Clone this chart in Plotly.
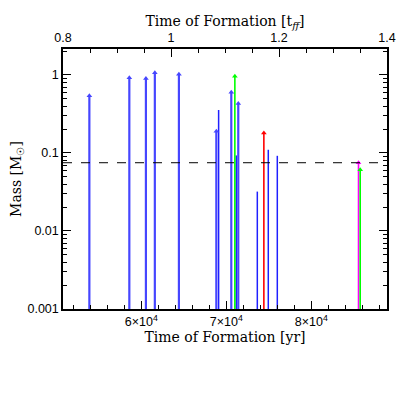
import plotly.graph_objects as go

# formation times [yr] and masses [Msun]
blue_arrow_t = [53900, 58600, 60550, 61600, 64430, 68830, 70590, 71410]
blue_arrow_m = [0.54, 0.92, 0.90, 1.07, 1.02, 0.19, 0.60, 0.43]

blue_line_t = [69100, 71180, 73650, 74940, 76000]
blue_line_m = [0.356, 0.093, 0.032, 0.11, 0.092]

green_t = [71010, 85750]
green_m = [0.96, 0.061]

red_t = [74420]
red_m = [0.18]

magenta_t = [85550]
magenta_m = [0.075]

t_ff = 63500.0
m_floor = 0.001
m_hburn = 0.075

x_ticks = [60000, 70000, 80000]
x_ticktext = ["6×10<sup>4</sup>", "7×10<sup>4</sup>", "8×10<sup>4</sup>"]
y_ticks = [0.001, 0.01, 0.1, 1]
y_ticktext = ["0.001", "0.01", "0.1", "1"]
y_minor = [k * 10.0 ** e for e in range(-3, 1) for k in range(2, 10)]
top_ticks = [0.8, 1.0, 1.2, 1.4]
top_ticktext = ["0.8", "1", "1.2", "1.4"]
top_minor = [0.85, 0.9, 0.95, 1.05, 1.1, 1.15, 1.25, 1.3, 1.35]


def stems(ts, ms):
    xs, ys = [], []
    for t, m in zip(ts, ms):
        xs += [t, t, None]
        ys += [m_floor, m, None]
    return xs, ys


fig = go.Figure()

groups = [
    (blue_line_t, blue_line_m, "#2020ff", 1.5, False),
    (blue_arrow_t, blue_arrow_m, "#4646ff", 2.2, True),
    (red_t, red_m, "#ff0000", 1.6, True),
    (magenta_t, magenta_m, "#ff00ff", 1.6, True),
    (green_t, green_m, "#00ff00", 1.6, True),
]

for ts, ms, col, w, arrow in groups:
    xs, ys = stems(ts, ms)
    fig.add_trace(go.Scatter(x=xs, y=ys, mode="lines",
                             line=dict(color=col, width=w),
                             hoverinfo="skip", showlegend=False))
    if arrow:
        fig.add_trace(go.Scatter(x=ts, y=ms, mode="markers",
                                 marker=dict(symbol="triangle-up", size=5, color=col),
                                 hoverinfo="skip", showlegend=False))

# invisible trace so the top (t_ff) axis gets drawn
fig.add_trace(go.Scatter(x=top_ticks, y=[m_floor] * len(top_ticks), xaxis="x2",
                         mode="markers", marker=dict(opacity=0),
                         hoverinfo="skip", showlegend=False))

fig.add_hline(y=m_hburn, line=dict(color="black", width=1, dash="dash"))

tick_font = dict(family="Liberation Sans", size=12.5, color="black")
title_font = dict(family="DejaVu Serif", size=14, color="black")

# page body adds 8px offset, so the figure is a bit smaller than the window
fig.update_layout(
    width=401, height=401,
    margin=dict(l=55, r=22, t=41, b=100),
    plot_bgcolor="white", paper_bgcolor="white",
    xaxis=dict(
        range=[0.8 * t_ff, 1.4 * t_ff],
        tickvals=x_ticks, ticktext=x_ticktext,
        ticks="inside", ticklen=8, tickwidth=1, tickcolor="black",
        minor=dict(dtick=2000, ticks="inside", ticklen=4, tickcolor="black"),
        showline=True, linecolor="black", linewidth=1.5,
        showgrid=False, zeroline=False, automargin=False,
        tickfont=tick_font,
        title=dict(text="Time of Formation [yr]", font=title_font, standoff=4),
    ),
    xaxis2=dict(
        overlaying="x", side="top", anchor="y",
        range=[0.8, 1.4],
        tickvals=top_ticks, ticktext=top_ticktext,
        ticks="inside", ticklen=8, tickwidth=1, tickcolor="black",
        minor=dict(tickvals=top_minor, ticks="inside", ticklen=4, tickcolor="black"),
        showline=True, linecolor="black", linewidth=1.5,
        showgrid=False, zeroline=False, automargin=False,
        tickfont=tick_font,
        title=dict(text="Time of Formation [t<sub><i>ff</i></sub>]", font=title_font, standoff=0),
    ),
    yaxis=dict(
        type="log", range=[-3, 0.333],
        tickvals=y_ticks, ticktext=y_ticktext,
        ticks="inside", ticklen=8, tickwidth=1, tickcolor="black",
        minor=dict(tickvals=y_minor, ticks="inside", ticklen=4, tickcolor="black"),
        showline=True, linecolor="black", linewidth=1.5, mirror="ticks",
        showgrid=False, zeroline=False, automargin=False,
        tickfont=tick_font,
        title=dict(text="Mass [M<sub>☉</sub>]", font=title_font, standoff=14),
    ),
)

fig.write_html("out.html")
